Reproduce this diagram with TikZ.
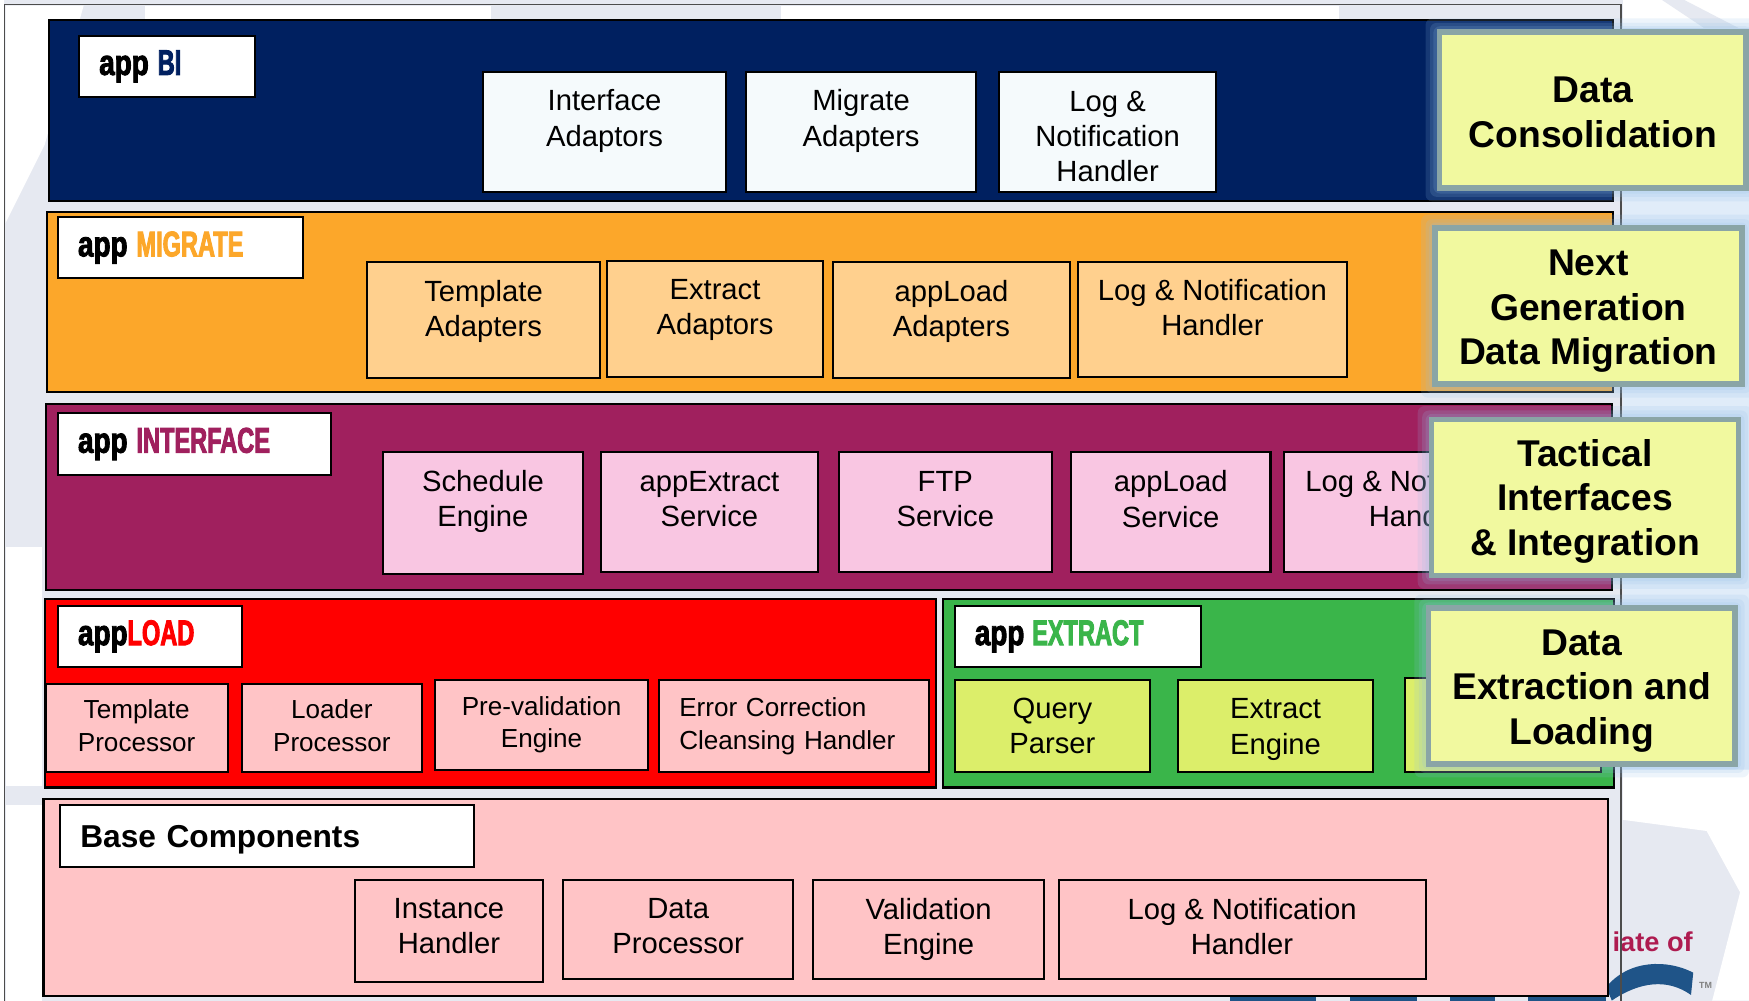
\documentclass[tikz,border=0pt]{standalone}
\usepackage{fontspec}
\setmainfont{Liberation Sans}
\newfontfamily\appfont[FakeStretch=.78,FakeBold=2.5]{Liberation Sans}
\newfontfamily\capsfont[FakeStretch=.66,FakeBold=2.5]{Liberation Sans}
\newcommand{\lift}[1]{\rule{0pt}{#1}}
\newcommand{\drop}[1]{\rule[-#1]{0pt}{0pt}}
\definecolor{navyband}{HTML}{002060}
\definecolor{orangeband}{HTML}{FCA72A}
\definecolor{plumband}{HTML}{A0205E}
\definecolor{greenband}{HTML}{3AB54A}
\definecolor{pinkband}{HTML}{FFC4C6}
\definecolor{paleback}{HTML}{E6E9F1}
\definecolor{paleblue}{HTML}{E0ECF9}
\definecolor{calloutfill}{HTML}{F1F99F}
\definecolor{calloutline}{HTML}{8AA5A6}
\definecolor{glowblue}{HTML}{91BEE7}
\definecolor{logoblue}{HTML}{1F5488}
\definecolor{navyitem}{HTML}{F5FAFC}
\definecolor{orangeitem}{HTML}{FFD08E}
\definecolor{plumitem}{HTML}{F9C6E2}
\definecolor{greenitem}{HTML}{DCEE6A}
\tikzset{
  band/.style = {draw=black, line width=.9pt, inner sep=0pt, outer sep=0pt},
  namebox/.style = {band, fill=white, align=left, inner xsep=9pt, minimum height=27.5pt, font=\appfont\bfseries\fontsize{16}{18}\selectfont},
  item/.style = {band, align=center, font=\fontsize{13.1}{15.75}\selectfont},
  smallitem/.style = {item, font=\fontsize{11.7}{14.5}\selectfont},
  callout/.style = {draw=calloutline, fill=calloutfill, line width=2.5pt, align=center, inner sep=0pt, minimum width=137.5pt, minimum height=70pt, font=\bfseries\fontsize{16.7}{20}\selectfont},
  glow/.style = {fill=glowblue, opacity=.16, rounded corners=3pt}
}

\begin{document}
\begin{tikzpicture}[x=.5pt,y=-.5pt]
  \useasboundingbox (0,0) rectangle (1568,897);
  % watermark behind the slide
  \fill[paleback] (0,0) rectangle (1568,897);
  \fill[white] (0,0) rectangle (4,897);
  \fill[white] (5,5) -- (75,5) -- (40,130) -- (5,200) -- cycle;
  \fill[white] (5,490) rectangle (38,705);
  \fill[white] (5,722) rectangle (38,897);
  \fill[white] (130,5) rectangle (440,17);
  \fill[white] (700,5) rectangle (1200,17);
  \fill[white] (1455,0) rectangle (1568,25);
  \fill[paleback] (1490,0) -- (1510,0) -- (1568,30) -- (1535,30) -- cycle;
  \fill[paleblue] (1455,25) rectangle (1568,690);
  \fill[white] (1455,690) -- (1568,690) -- (1568,897) -- (1535,897) -- (1560,800) -- (1530,745) -- (1455,735) -- cycle;
  \fill[logoblue] (1440,885) .. controls (1460,860) and (1495,860) .. (1518,872) -- (1516,892) .. controls (1495,877) and (1470,880) .. (1445,897) -- cycle;
  \fill[logoblue] (1103,893) rectangle (1180,897);
  \fill[logoblue] (1210,893) rectangle (1270,897);
  \fill[logoblue] (1300,893) rectangle (1340,897);
  \fill[logoblue] (1370,893) rectangle (1440,897);
  \node (affil) [anchor=base east, text=plumband!85!red, font=\bfseries\fontsize{12.2}{14}\selectfont, inner sep=0pt] at (1518,853) {iate of};
  \node (trade) [text=gray, font=\bfseries\fontsize{4}{5}\selectfont, inner sep=0pt] at (1529,883) {TM};
  % slide frame
  \draw[line width=.8pt,black!70] (4,897) -- (4,4) -- (1453,4) -- (1453,897);
  % bi layer
  \node (biBand) [band, fill=navyband, minimum width=701pt, minimum height=81pt] at (745,99) {};
  \node (biName) [namebox, text width=61pt] at (150,59.5) {app\hspace{4pt}\textcolor{navyband}{\capsfont BI}};
  \node (biInterface) [item, fill=navyitem, minimum width=109pt, minimum height=53.5pt] at (542,118.5) {Interface\\Adaptors\\[-3pt]~};
  \node (biMigrate) [item, fill=navyitem, minimum width=103pt, minimum height=53.5pt] at (772,118.5) {Migrate\\Adapters\\[-3pt]~};
  \node (biLog) [item, fill=navyitem, minimum width=97pt, minimum height=53.5pt] at (993,118.5) {\lift{13pt}Log \&\\Notification\\Handler};
  % migrate layer
  \node (migBand) [band, fill=orangeband, minimum width=702pt, minimum height=80.5pt] at (744,270.5) {};
  \node (migName) [namebox, text width=92pt] at (162,222) {app\hspace{4pt}\textcolor{orangeband}{\capsfont MIGRATE}};
  \node (migTemplate) [item, fill=orangeitem, minimum width=104.5pt, minimum height=52pt] at (433.5,287) {Template\\Adapters\\[-5pt]~};
  \node (migExtract) [item, fill=orangeitem, minimum width=97pt, minimum height=52pt] at (641,286) {Extract\\Adaptors\\[-5pt]~};
  \node (migLoad) [item, fill=orangeitem, minimum width=106pt, minimum height=52pt] at (853,287) {appLoad\\Adapters\\[-5pt]~};
  \node (migLog) [item, fill=orangeitem, minimum width=121pt, minimum height=51.5pt] at (1087,286.5) {Log \& Notification\\Handler\\[-5pt]~};
  % interface layer
  \node (ifBand) [band, fill=plumband, minimum width=702pt, minimum height=83.5pt] at (743,445.5) {};
  \node (ifName) [namebox, text width=104.5pt] at (174.5,398) {app\hspace{4pt}\textcolor{plumband}{\capsfont INTERFACE}};
  \node (ifSchedule) [item, fill=plumitem, minimum width=90pt, minimum height=55pt] at (433,460) {Schedule\\Engine\\[-2.5pt]~};
  \node (ifExtract) [item, fill=plumitem, minimum width=97pt, minimum height=54pt] at (636,459) {appExtract\\Service\\[-4pt]~};
  \node (ifFtp) [item, fill=plumitem, minimum width=95.5pt, minimum height=54pt] at (847.5,459) {FTP\\Service\\[-4pt]~};
  \node (ifLoad) [item, fill=plumitem, minimum width=89.5pt, minimum height=54pt] at (1049.5,459) {appLoad\\Service\\[-4pt]~};
  \node (ifLog) [item, fill=plumitem, minimum width=122pt, minimum height=54pt] at (1273,459) {Log \& Notification\\Handler\\[-3.5pt]~};
  % load layer
  \node (loadBand) [band, fill=red, minimum width=399.5pt, minimum height=84.5pt] at (439.5,621.5) {};
  \node (loadName) [namebox, text width=64.5pt] at (134.5,570.5) {app\textcolor{red}{\capsfont LOAD}};
  \node (loadTemplate) [smallitem, fill=pinkband, minimum width=81.5pt, minimum height=39.5pt] at (122.5,652.5) {Template\\Processor\drop{2pt}};
  \node (loadLoader) [smallitem, fill=pinkband, minimum width=80.5pt, minimum height=39.5pt] at (297.5,652.5) {Loader\\Processor\drop{2pt}};
  \node (loadCheck) [smallitem, fill=pinkband, minimum width=95.5pt, minimum height=40pt] at (485.5,650) {Pre-validation\\Engine};
  \node (loadError) [smallitem, fill=pinkband, align=left, inner xsep=9pt, text width=103pt, minimum height=41pt] at (712,651) {Error Correction\\Cleansing Handler};
  % extract layer
  \node (extBand) [band, fill=greenband, minimum width=301pt, minimum height=84.5pt] at (1146,621.5) {};
  \node (extName) [namebox, text width=92.5pt] at (966.5,570.5) {app\hspace{3.5pt}\textcolor{greenband}{\capsfont EXTRACT}};
  \node (extQuery) [item, fill=greenitem, minimum width=87.5pt, minimum height=41pt] at (943.5,651) {Query\\Parser};
  \node (extEngine) [item, fill=greenitem, minimum width=87.5pt, minimum height=41pt] at (1143.5,651) {\lift{12pt}Extract\\Engine};
  \node (extOther) [item, fill=greenitem, minimum width=87.5pt, minimum height=42pt] at (1347.5,650) {};
  % base layer
  \node (baseBand) [band, fill=pinkband, minimum width=701.5pt, minimum height=88.5pt] at (740.5,804.5) {};
  \node (baseName) [band, fill=white, align=left, inner xsep=9pt, minimum height=27.5pt, text width=167.5pt, font=\bfseries\fontsize{14.2}{18}\selectfont] at (239.5,749.5) {\lift{13pt}Base Components};
  \node (baseInstance) [item, fill=pinkband, minimum width=84.5pt, minimum height=45.5pt] at (402.5,834.5) {Instance\\Handler\drop{4pt}};
  \node (baseData) [item, fill=pinkband, minimum width=103pt, minimum height=44.5pt] at (608,833.5) {Data\\Processor\drop{3pt}};
  \node (baseValid) [item, fill=pinkband, minimum width=103.5pt, minimum height=44.5pt] at (832.5,833.5) {Validation\\Engine};
  \node (baseLog) [item, fill=pinkband, minimum width=164.5pt, minimum height=44.5pt] at (1113.5,833.5) {Log \& Notification\\Handler\drop{3pt}};
  % callouts with their glow
  \foreach \cx/\cy in {1428/98.5,1424/274.5,1421/446,1418/615}
    \foreach \g in {3,6,10}
      \fill[glow] (\cx-140-\g,\cy-72-\g) rectangle (\cx+140+\g,\cy+72+\g);
  \node (consolidation) [callout] at (1428,98.5) {\lift{14pt}Data\\Consolidation};
  \node (migration) [callout] at (1424,274.5) {\lift{16pt}Next\\Generation\\Data Migration};
  \node (tactical) [callout] at (1421,446) {\lift{15.5pt}Tactical\\Interfaces\\\& Integration};
  \node (extraction) [callout] at (1418,615) {\lift{16pt}Data\\Extraction and\\Loading};
\end{tikzpicture}
\end{document}
